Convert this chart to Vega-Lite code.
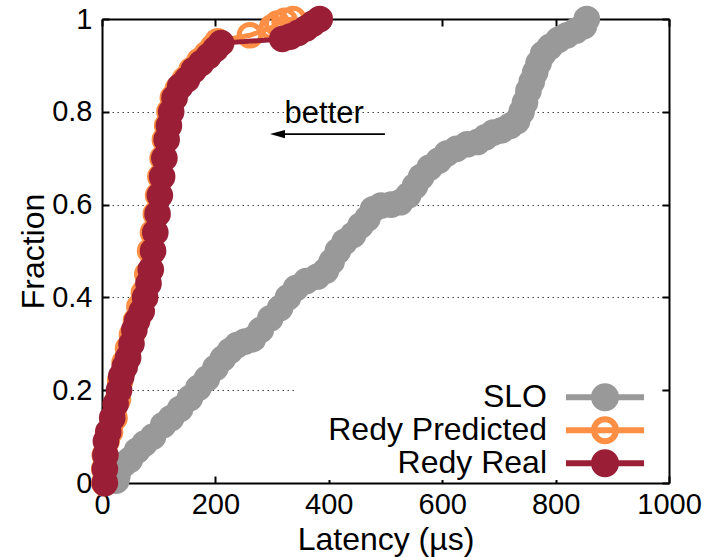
{
  "$schema": "https://vega.github.io/schema/vega-lite/v6.json",
  "width": 567,
  "height": 464,
  "autosize": {"type": "none"},
  "padding": {"left": 102, "top": 19, "right": 45, "bottom": 74},
  "config": {
    "font": "Liberation Sans",
    "view": {"stroke": null},
    "axis": {
      "domainColor": "black", "domainWidth": 2,
      "tickColor": "black", "tickWidth": 2, "tickSize": -7,
      "labelFontSize": 29, "labelColor": "black", "labelFlush": false, "labelOverlap": false,
      "titleFontSize": 32, "titleFontWeight": "normal", "titleColor": "black",
      "grid": false
    }
  },
  "datasets": {
    "cdf": [
      {"series": "SLO", "latency": 25, "fraction": 0.005},
      {"series": "SLO", "latency": 27, "fraction": 0.015},
      {"series": "SLO", "latency": 30, "fraction": 0.03},
      {"series": "SLO", "latency": 38, "fraction": 0.04},
      {"series": "SLO", "latency": 49, "fraction": 0.05},
      {"series": "SLO", "latency": 62, "fraction": 0.07},
      {"series": "SLO", "latency": 75, "fraction": 0.085},
      {"series": "SLO", "latency": 90, "fraction": 0.1},
      {"series": "SLO", "latency": 108, "fraction": 0.125},
      {"series": "SLO", "latency": 122, "fraction": 0.14},
      {"series": "SLO", "latency": 138, "fraction": 0.16},
      {"series": "SLO", "latency": 155, "fraction": 0.183},
      {"series": "SLO", "latency": 170, "fraction": 0.205},
      {"series": "SLO", "latency": 185, "fraction": 0.225},
      {"series": "SLO", "latency": 200, "fraction": 0.248},
      {"series": "SLO", "latency": 213, "fraction": 0.268},
      {"series": "SLO", "latency": 226, "fraction": 0.285},
      {"series": "SLO", "latency": 238, "fraction": 0.297},
      {"series": "SLO", "latency": 252, "fraction": 0.305},
      {"series": "SLO", "latency": 266, "fraction": 0.31},
      {"series": "SLO", "latency": 280, "fraction": 0.33},
      {"series": "SLO", "latency": 297, "fraction": 0.355},
      {"series": "SLO", "latency": 314, "fraction": 0.377},
      {"series": "SLO", "latency": 328, "fraction": 0.4},
      {"series": "SLO", "latency": 342, "fraction": 0.42},
      {"series": "SLO", "latency": 360, "fraction": 0.435},
      {"series": "SLO", "latency": 380, "fraction": 0.445},
      {"series": "SLO", "latency": 395, "fraction": 0.458},
      {"series": "SLO", "latency": 405, "fraction": 0.477},
      {"series": "SLO", "latency": 416, "fraction": 0.5},
      {"series": "SLO", "latency": 428, "fraction": 0.52},
      {"series": "SLO", "latency": 443, "fraction": 0.535},
      {"series": "SLO", "latency": 456, "fraction": 0.555},
      {"series": "SLO", "latency": 468, "fraction": 0.57},
      {"series": "SLO", "latency": 478, "fraction": 0.59},
      {"series": "SLO", "latency": 492, "fraction": 0.598},
      {"series": "SLO", "latency": 510, "fraction": 0.6},
      {"series": "SLO", "latency": 526, "fraction": 0.605},
      {"series": "SLO", "latency": 540, "fraction": 0.62},
      {"series": "SLO", "latency": 552, "fraction": 0.64},
      {"series": "SLO", "latency": 563, "fraction": 0.66},
      {"series": "SLO", "latency": 578, "fraction": 0.68},
      {"series": "SLO", "latency": 594, "fraction": 0.695},
      {"series": "SLO", "latency": 608, "fraction": 0.71},
      {"series": "SLO", "latency": 625, "fraction": 0.72},
      {"series": "SLO", "latency": 644, "fraction": 0.73},
      {"series": "SLO", "latency": 662, "fraction": 0.735},
      {"series": "SLO", "latency": 676, "fraction": 0.745},
      {"series": "SLO", "latency": 690, "fraction": 0.755},
      {"series": "SLO", "latency": 705, "fraction": 0.76},
      {"series": "SLO", "latency": 720, "fraction": 0.77},
      {"series": "SLO", "latency": 732, "fraction": 0.78},
      {"series": "SLO", "latency": 740, "fraction": 0.8},
      {"series": "SLO", "latency": 746, "fraction": 0.82},
      {"series": "SLO", "latency": 752, "fraction": 0.845},
      {"series": "SLO", "latency": 758, "fraction": 0.865},
      {"series": "SLO", "latency": 764, "fraction": 0.885},
      {"series": "SLO", "latency": 770, "fraction": 0.905},
      {"series": "SLO", "latency": 778, "fraction": 0.925},
      {"series": "SLO", "latency": 790, "fraction": 0.94},
      {"series": "SLO", "latency": 805, "fraction": 0.955},
      {"series": "SLO", "latency": 820, "fraction": 0.965},
      {"series": "SLO", "latency": 836, "fraction": 0.975},
      {"series": "SLO", "latency": 850, "fraction": 0.985},
      {"series": "SLO", "latency": 855, "fraction": 1.0},
      {"series": "Redy Predicted", "latency": 4, "fraction": 0.0},
      {"series": "Redy Predicted", "latency": 4, "fraction": 0.03},
      {"series": "Redy Predicted", "latency": 5, "fraction": 0.06},
      {"series": "Redy Predicted", "latency": 8, "fraction": 0.09},
      {"series": "Redy Predicted", "latency": 14, "fraction": 0.11},
      {"series": "Redy Predicted", "latency": 22, "fraction": 0.14},
      {"series": "Redy Predicted", "latency": 28, "fraction": 0.18},
      {"series": "Redy Predicted", "latency": 32, "fraction": 0.22},
      {"series": "Redy Predicted", "latency": 40, "fraction": 0.26},
      {"series": "Redy Predicted", "latency": 46, "fraction": 0.29},
      {"series": "Redy Predicted", "latency": 53, "fraction": 0.32},
      {"series": "Redy Predicted", "latency": 60, "fraction": 0.35},
      {"series": "Redy Predicted", "latency": 66, "fraction": 0.38},
      {"series": "Redy Predicted", "latency": 74, "fraction": 0.41},
      {"series": "Redy Predicted", "latency": 80, "fraction": 0.45},
      {"series": "Redy Predicted", "latency": 85, "fraction": 0.5},
      {"series": "Redy Predicted", "latency": 90, "fraction": 0.54},
      {"series": "Redy Predicted", "latency": 95, "fraction": 0.58},
      {"series": "Redy Predicted", "latency": 99, "fraction": 0.62},
      {"series": "Redy Predicted", "latency": 103, "fraction": 0.66},
      {"series": "Redy Predicted", "latency": 107, "fraction": 0.7},
      {"series": "Redy Predicted", "latency": 111, "fraction": 0.74},
      {"series": "Redy Predicted", "latency": 115, "fraction": 0.77},
      {"series": "Redy Predicted", "latency": 119, "fraction": 0.8},
      {"series": "Redy Predicted", "latency": 125, "fraction": 0.83},
      {"series": "Redy Predicted", "latency": 134, "fraction": 0.85},
      {"series": "Redy Predicted", "latency": 146, "fraction": 0.87},
      {"series": "Redy Predicted", "latency": 158, "fraction": 0.89},
      {"series": "Redy Predicted", "latency": 172, "fraction": 0.91},
      {"series": "Redy Predicted", "latency": 185, "fraction": 0.925},
      {"series": "Redy Predicted", "latency": 196, "fraction": 0.94},
      {"series": "Redy Predicted", "latency": 204, "fraction": 0.952},
      {"series": "Redy Predicted", "latency": 261, "fraction": 0.965},
      {"series": "Redy Predicted", "latency": 300, "fraction": 0.982},
      {"series": "Redy Predicted", "latency": 309, "fraction": 0.99},
      {"series": "Redy Predicted", "latency": 322, "fraction": 0.996},
      {"series": "Redy Predicted", "latency": 337, "fraction": 1.0},
      {"series": "Redy Real", "latency": 5, "fraction": 0.0},
      {"series": "Redy Real", "latency": 5, "fraction": 0.03},
      {"series": "Redy Real", "latency": 6, "fraction": 0.06},
      {"series": "Redy Real", "latency": 7, "fraction": 0.09},
      {"series": "Redy Real", "latency": 11, "fraction": 0.11},
      {"series": "Redy Real", "latency": 18, "fraction": 0.14},
      {"series": "Redy Real", "latency": 24, "fraction": 0.17},
      {"series": "Redy Real", "latency": 30, "fraction": 0.2},
      {"series": "Redy Real", "latency": 34, "fraction": 0.23},
      {"series": "Redy Real", "latency": 40, "fraction": 0.25},
      {"series": "Redy Real", "latency": 46, "fraction": 0.27},
      {"series": "Redy Real", "latency": 52, "fraction": 0.3},
      {"series": "Redy Real", "latency": 57, "fraction": 0.33},
      {"series": "Redy Real", "latency": 62, "fraction": 0.35},
      {"series": "Redy Real", "latency": 70, "fraction": 0.37},
      {"series": "Redy Real", "latency": 76, "fraction": 0.4},
      {"series": "Redy Real", "latency": 82, "fraction": 0.43},
      {"series": "Redy Real", "latency": 86, "fraction": 0.46},
      {"series": "Redy Real", "latency": 90, "fraction": 0.5},
      {"series": "Redy Real", "latency": 94, "fraction": 0.54},
      {"series": "Redy Real", "latency": 98, "fraction": 0.58},
      {"series": "Redy Real", "latency": 102, "fraction": 0.62},
      {"series": "Redy Real", "latency": 106, "fraction": 0.66},
      {"series": "Redy Real", "latency": 110, "fraction": 0.7},
      {"series": "Redy Real", "latency": 114, "fraction": 0.74},
      {"series": "Redy Real", "latency": 118, "fraction": 0.77},
      {"series": "Redy Real", "latency": 122, "fraction": 0.8},
      {"series": "Redy Real", "latency": 128, "fraction": 0.83},
      {"series": "Redy Real", "latency": 138, "fraction": 0.855},
      {"series": "Redy Real", "latency": 150, "fraction": 0.87},
      {"series": "Redy Real", "latency": 162, "fraction": 0.89},
      {"series": "Redy Real", "latency": 175, "fraction": 0.905},
      {"series": "Redy Real", "latency": 188, "fraction": 0.92},
      {"series": "Redy Real", "latency": 200, "fraction": 0.935},
      {"series": "Redy Real", "latency": 210, "fraction": 0.948},
      {"series": "Redy Real", "latency": 318, "fraction": 0.957},
      {"series": "Redy Real", "latency": 332, "fraction": 0.962},
      {"series": "Redy Real", "latency": 346, "fraction": 0.97},
      {"series": "Redy Real", "latency": 360, "fraction": 0.98},
      {"series": "Redy Real", "latency": 372, "fraction": 0.99},
      {"series": "Redy Real", "latency": 384, "fraction": 1.0}
    ],
    "note": [
      {"label": "better", "latency": 392, "fraction": 0.776}
    ],
    "arrow": [
      {"latency": 499, "latency2": 309, "head": 309.5, "fraction": 0.752}
    ]
  },
  "layer": [
    {
      "data": {"name": "cdf"},
      "transform": [{"filter": "datum.series === 'SLO'"}],
      "mark": {"type": "line", "strokeWidth": 5, "point": {"filled": true, "fill": "#999999", "size": 710, "strokeWidth": 0, "opacity": 1}},
      "encoding": {
        "x": {"field": "latency", "type": "quantitative",
              "scale": {"domain": [0, 1000], "nice": false, "zero": false},
              "axis": {"orient": "bottom", "values": [0, 200, 400, 600, 800, 1000], "format": "d",
                       "labelPadding": 14, "title": "Latency (µs)", "titleX": 283.5, "titleY": 66,
                       "titleBaseline": "alphabetic", "titleAnchor": "middle", "titleAlign": "center"}},
        "y": {"field": "fraction", "type": "quantitative",
              "scale": {"domain": [0, 1], "nice": false, "zero": false},
              "axis": {"orient": "left", "values": [0, 0.2, 0.4, 0.6, 0.8, 1], "format": "~g",
                       "labelPadding": 17, "title": "Fraction", "titleX": -59, "titleY": 232,
                       "titleAngle": 270, "titleBaseline": "alphabetic", "titleAlign": "center"}},
        "order": {"field": "fraction", "type": "quantitative"},
        "stroke": {"field": "series", "type": "nominal",
                  "scale": {"domain": ["SLO", "Redy Predicted", "Redy Real"], "range": ["#999999", "#ff8f45", "#9a1f36"]},
                  "legend": {
                    "title": null, "orient": "none", "legendX": 195, "legendY": 362,
                    "fillColor": "white", "padding": 0, "strokeColor": null,
                    "labelAlign": "right", "labelBaseline": "middle", "labelOffset": -74, "symbolOffset": 292,
                    "labelFontSize": 32, "labelFont": "Liberation Sans", "labelColor": "black", "labelLimit": 400,
                    "rowPadding": 0, "clipHeight": 32.5, "symbolSize": 484, "symbolStrokeWidth": 6,
                    "symbolType": "M-3.55,0H3.55M-1,0C-1,-0.5523,-0.5523,-1,0,-1C0.5523,-1,1,-0.5523,1,0C1,0.5523,0.5523,1,0,1C-0.5523,1,-1,0.5523,-1,0Z",
                    "encode": {
                      "entries": {"update": {"width": {"value": 365}}},
                      "symbols": {
                        "update": {
                          "fill": {"signal": "datum.value === 'Redy Predicted' ? '#ffffff' : scale('stroke', datum.value)"},
                          "stroke": {"signal": "scale('stroke', datum.value)"},
                          "strokeWidth": {"value": 6},
                          "opacity": {"value": 1},
                          "fillOpacity": {"value": 1},
                          "strokeOpacity": {"value": 1}
                        }
                      }
                    }
                  }}
      }
    },
    {
      "data": {"name": "cdf"},
      "transform": [{"filter": "datum.series === 'Redy Predicted'"}],
      "mark": {"type": "line", "strokeWidth": 5, "point": {"filled": false, "size": 470, "strokeWidth": 5, "opacity": 1}},
      "encoding": {
        "x": {"field": "latency", "type": "quantitative",
              "axis": {"orient": "top", "values": [0, 200, 400, 600, 800, 1000], "labels": false, "title": null}},
        "y": {"field": "fraction", "type": "quantitative",
              "axis": {"orient": "right", "values": [0, 0.2, 0.4, 0.6, 0.8, 1], "labels": false, "title": null}},
        "order": {"field": "fraction", "type": "quantitative"},
        "stroke": {"field": "series", "type": "nominal"}
      }
    },
    {
      "data": {"name": "cdf"},
      "transform": [{"filter": "datum.series === 'Redy Real'"}],
      "mark": {"type": "line", "strokeWidth": 5, "point": {"filled": true, "fill": "#9a1f36", "size": 710, "strokeWidth": 0, "opacity": 1}},
      "encoding": {
        "x": {"field": "latency", "type": "quantitative", "axis": null},
        "y": {"field": "fraction", "type": "quantitative",
              "axis": {"orient": "left", "values": [0.2, 0.4, 0.6, 0.8], "grid": true, "gridDash": [1.5, 3.5],
                       "gridColor": "#444444", "gridWidth": 1, "domain": false, "ticks": false, "labels": false, "title": null}},
        "order": {"field": "fraction", "type": "quantitative"},
        "stroke": {"field": "series", "type": "nominal"}
      }
    },
    {
      "data": {"name": "note"},
      "mark": {"type": "text", "fontSize": 31, "font": "Liberation Sans", "align": "center", "baseline": "alphabetic", "color": "black"},
      "encoding": {
        "x": {"field": "latency", "type": "quantitative", "axis": null},
        "y": {"field": "fraction", "type": "quantitative", "axis": null},
        "text": {"field": "label"}
      }
    },
    {
      "data": {"name": "arrow"},
      "mark": {"type": "rule", "strokeWidth": 1.7, "color": "black"},
      "encoding": {
        "x": {"field": "latency", "type": "quantitative", "axis": null},
        "x2": {"field": "latency2"},
        "y": {"field": "fraction", "type": "quantitative", "axis": null}
      }
    },
    {
      "data": {"name": "arrow"},
      "mark": {"type": "point", "shape": "M-1,0L1,-0.55L1,0.55Z", "size": 225, "filled": true, "color": "black", "opacity": 1},
      "encoding": {
        "x": {"field": "head", "type": "quantitative", "axis": null},
        "y": {"field": "fraction", "type": "quantitative", "axis": null}
      }
    }
  ],
  "resolve": {"axis": {"x": "independent", "y": "independent"}}
}
